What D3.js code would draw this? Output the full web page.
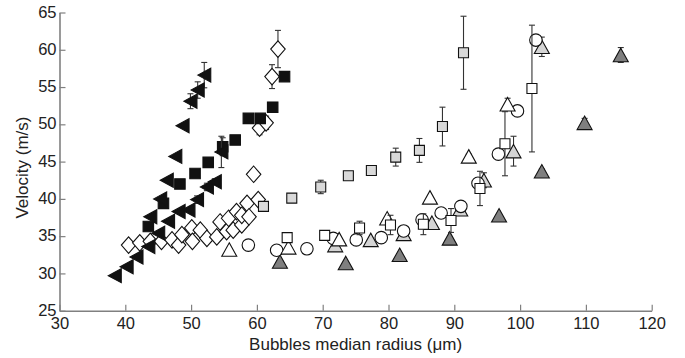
<!DOCTYPE html>
<html>
<head>
<meta charset="utf-8">
<script src="https://cdn.jsdelivr.net/npm/d3@7"></script>
<style>
  body { margin: 0; background: #fff; }
  text { font-family: "Liberation Sans", Arial, sans-serif; fill: #222; }
</style>
</head>
<body>
<div id="chart"></div>
<script>
// [radius, velocity, error]
const leftTriangles = [
    [38.4, 29.7, 0], [40.2, 30.9, 0], [41.7, 32.2, 0], [43.5, 33.6, 0], [45.0, 35.4, 0],
    [46.5, 37.0, 0], [48.1, 38.3, 0], [49.6, 38.5, 0], [50.9, 39.9, 0.5], [52.4, 41.6, 0.5],
    [53.6, 42.3, 0.4], [43.8, 37.6, 0], [45.3, 40.0, 0], [46.3, 42.5, 0], [47.6, 45.7, 0],
    [48.7, 49.8, 0], [49.9, 53.1, 1.0], [51.0, 54.6, 1.1], [52.0, 56.6, 1.7], [54.6, 46.3, 2.1]
];
const blackSquares = [
    [43.5, 36.3, 0], [45.8, 39.4, 0], [48.3, 42.0, 0], [50.6, 43.4, 0], [52.6, 44.9, 0],
    [54.8, 47.0, 1.2], [56.7, 47.9, 0], [58.7, 50.8, 0], [60.5, 50.8, 0], [62.4, 52.3, 0.3],
    [64.2, 56.4, 0.4]
];
const diamonds = [
    [40.5, 33.8, 0], [42.2, 34.1, 0], [43.8, 34.3, 0], [45.5, 34.3, 0], [47.1, 34.5, 0],
    [48.1, 33.8, 0], [48.6, 35.2, 0], [50.1, 36.1, 0], [50.2, 34.3, 0], [51.4, 35.8, 0],
    [52.4, 34.7, 0], [53.9, 34.9, 0], [54.4, 36.9, 0], [55.4, 35.6, 0], [55.7, 37.4, 0],
    [56.4, 35.8, 0], [56.9, 38.3, 0], [57.7, 36.5, 0], [57.7, 37.8, 0], [58.5, 39.4, 0],
    [58.8, 37.6, 0], [60.2, 39.9, 0], [59.5, 43.3, 0], [60.4, 49.5, 0.9], [61.4, 50.2, 0.9],
    [62.3, 56.4, 1.6], [63.2, 60.1, 2.5]
];
const graySquares = [
    [61.0, 39.0, 0], [65.3, 40.1, 0.4], [69.7, 41.6, 0.9], [73.9, 43.1, 0.4], [77.4, 43.8, 0],
    [81.1, 45.6, 1.2], [84.7, 46.5, 1.6], [88.2, 49.7, 2.6], [91.4, 59.6, 4.9]
];
const openSquares = [
    [64.6, 34.8, 0], [70.3, 35.1, 0], [75.6, 36.1, 0.9], [80.3, 36.5, 1.3], [85.3, 36.6, 1.4],
    [89.5, 37.1, 1.6], [93.9, 41.4, 2.3], [97.7, 47.4, 4.3], [101.8, 54.8, 8.5]
];
const circles = [
    [58.7, 33.8, 0], [63.0, 33.1, 0], [67.6, 33.3, 0], [71.6, 34.7, 0], [75.1, 34.5, 0],
    [78.9, 34.8, 0], [82.3, 35.7, 0], [85.1, 37.2, 0], [88.0, 38.1, 0], [91.0, 39.0, 0],
    [93.6, 42.1, 0], [96.7, 46.0, 0], [99.6, 51.8, 0], [102.4, 61.3, 0.4]
];
const openTriangles = [
    [55.8, 33.2, 0], [64.8, 33.5, 0], [72.5, 34.6, 0], [79.8, 37.4, 0], [86.3, 40.2, 0],
    [92.2, 45.7, 0.3], [98.1, 52.7, 0.8]
];
const lightTriangles = [
    [71.9, 33.8, 0], [77.3, 34.5, 0], [82.3, 35.3, 0], [86.6, 36.8, 0], [90.9, 38.6, 0],
    [94.5, 42.5, 1.0], [99.0, 46.4, 2.0], [103.3, 60.4, 1.3]
];
const darkTriangles = [
    [63.5, 31.6, 0], [73.5, 31.4, 0], [81.7, 32.5, 0], [89.3, 34.7, 0], [96.8, 37.8, 0],
    [103.3, 43.7, 0.3], [109.8, 50.2, 0.6], [115.3, 59.3, 1.0]
];

const xTicks = [30, 40, 50, 60, 70, 80, 90, 100, 110, 120];
const yTicks = [25, 30, 35, 40, 45, 50, 55, 60, 65];

const WIDTH = 685, HEIGHT = 358;
const MARGIN = {top: 12.5, left: 59.5, right: 33.3, bottom: 47.3};
const AXIS_COLOR = "#808080";

const shapes = {
    square: s => `M${-s/2},${-s/2}H${s/2}V${s/2}H${-s/2}Z`,
    circle: s => `M${s/2},0A${s/2},${s/2} 0 1,1 ${-s/2},0A${s/2},${s/2} 0 1,1 ${s/2},0Z`,
    diamond: s => `M0,${-s*0.57}L${s/2},0L0,${s*0.57}L${-s/2},0Z`,
    up: s => `M0,${-s*0.45}L${s/2},${s*0.45}L${-s/2},${s*0.45}Z`,
    left: s => `M${-s/2},0L${s/2},${-s*0.54}L${s/2},${s*0.54}Z`
};

const series = [
    {data: diamonds, shape: "diamond", size: 14.5, fill: "#fff"},
    {data: blackSquares, shape: "square", size: 10.5, fill: "#111"},
    {data: leftTriangles, shape: "left", size: 13, fill: "#111"},
    {data: graySquares, shape: "square", size: 10, fill: "#d9d9d9"},
    {data: lightTriangles, shape: "up", size: 15, fill: "#d4d4d4"},
    {data: darkTriangles, shape: "up", size: 15, fill: "#7f7f7f"},
    {data: circles, shape: "circle", size: 12.5, fill: "#fff"},
    {data: openTriangles, shape: "up", size: 15, fill: "#fff"},
    {data: openSquares, shape: "square", size: 10, fill: "#fff"}
];

const svg = d3.select("#chart").append("svg")
    .attr("width", WIDTH)
    .attr("height", HEIGHT);

const width = WIDTH - MARGIN.left - MARGIN.right;
const height = HEIGHT - MARGIN.top - MARGIN.bottom;

const g = svg.append("g")
    .attr("transform", "translate(" + MARGIN.left + "," + MARGIN.top + ")");

const x = d3.scaleLinear().domain([30, 120]).range([0, width]);
const y = d3.scaleLinear().domain([25, 65]).range([height, 0]);

// axes, ticks pointing inward
const xAxis = g.append("g")
    .attr("transform", "translate(0," + height + ")")
    .call(d3.axisBottom(x).tickValues(xTicks).tickSizeInner(-6).tickSizeOuter(0).tickPadding(10));
const yAxis = g.append("g")
    .call(d3.axisLeft(y).tickValues(yTicks).tickSizeInner(-6).tickSizeOuter(0).tickPadding(4));

[xAxis, yAxis].forEach(ax => {
    ax.select(".domain").attr("stroke", AXIS_COLOR).attr("stroke-width", 1.6);
    ax.selectAll(".tick line").attr("stroke", AXIS_COLOR).attr("stroke-width", 1.2);
    ax.selectAll(".tick text")
        .attr("font-size", 16.5)
        .attr("font-family", "'Liberation Sans', Arial, sans-serif")
        .attr("fill", "#222");
});
xAxis.selectAll(".tick text").attr("dy", "0.5em");
yAxis.selectAll(".tick text").attr("dx", "1px").attr("dy", "0.28em");

// points
series.forEach(s => {
    const grp = g.append("g");
    const withErr = s.data.filter(d => d[2] > 0);
    grp.selectAll("line.bar")
        .data(withErr)
        .enter().append("line")
        .attr("x1", d => x(d[0])).attr("x2", d => x(d[0]))
        .attr("y1", d => y(d[1] - d[2])).attr("y2", d => y(d[1] + d[2]))
        .attr("stroke", "#333").attr("stroke-width", 1.1);
    [1, -1].forEach(sign => {
        grp.selectAll(null)
            .data(withErr)
            .enter().append("line")
            .attr("x1", d => x(d[0]) - 3).attr("x2", d => x(d[0]) + 3)
            .attr("y1", d => y(d[1] + sign * d[2])).attr("y2", d => y(d[1] + sign * d[2]))
            .attr("stroke", "#333").attr("stroke-width", 1.1);
    });
    grp.selectAll("path")
        .data(s.data)
        .enter().append("path")
        .attr("transform", d => "translate(" + x(d[0]) + "," + y(d[1]) + ")")
        .attr("d", shapes[s.shape](s.size))
        .attr("fill", s.fill)
        .attr("stroke", "#111")
        .attr("stroke-width", 1.1);
});

// titles
svg.append("text")
    .attr("x", MARGIN.left + x(75))
    .attr("y", 350)
    .attr("text-anchor", "middle")
    .attr("font-size", 17)
    .text("Bubbles median radius (μm)");

svg.append("text")
    .attr("transform", "translate(28," + (MARGIN.top + y(44.2)) + ") rotate(-90)")
    .attr("text-anchor", "middle")
    .attr("font-size", 17)
    .text("Velocity (m/s)");
</script>
</body>
</html>
